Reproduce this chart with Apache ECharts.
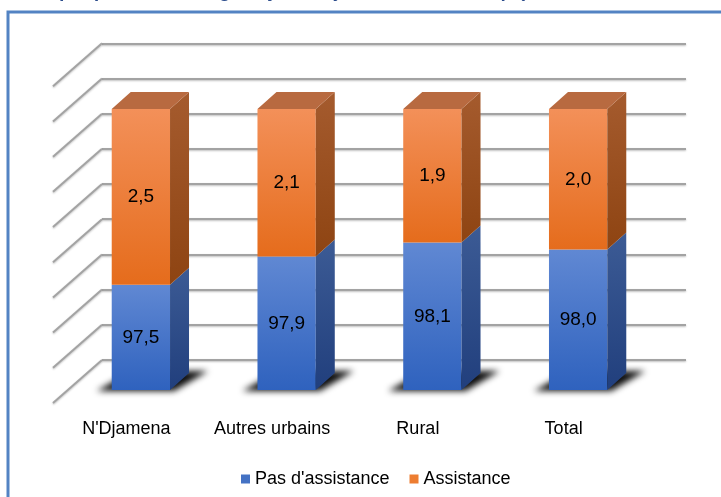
<!DOCTYPE html>
<html>
<head>
<meta charset="utf-8">
<script src="https://cdn.jsdelivr.net/npm/echarts@6/dist/echarts.min.js"></script>
<style>
html,body{margin:0;padding:0;background:#fff;}
#main{width:721px;height:497px;}
</style>
</head>
<body>
<div id="main"></div>
<script>
// données
var categories = ["N'Djamena", 'Autres urbains', 'Rural', 'Total'];
var pasAssistance = [97.5, 97.9, 98.1, 98.0];
var assistance = [2.5, 2.1, 1.9, 2.0];
var wallTicks = [96, 96.5, 97, 97.5, 98, 98.5, 99, 99.5, 100, 100.5];
var yMin = 96, yMax = 100.5, yStep = 0.5;

// effet 3D
var DEPTH_X = 19, DEPTH_Y = -17;
var WALL_X = -49, WALL_Y = 43;
var FONT = '"Liberation Sans", Arial, sans-serif';

function fmt(v){ return v.toFixed(1).replace('.', ','); }

function grad(c){
    return new echarts.graphic.LinearGradient(0, 0, 0, 1, [
        {offset: 0, color: c[0]}, {offset: 1, color: c[1]}
    ]);
}

function barRender(front, side, top, withShadow){
    return function(params, api){
        var i = api.value(0);
        var lo = api.coord([i, api.value(1)]);
        var hi = api.coord([i, api.value(2)]);
        var w = api.size([1, 0])[0] * 0.4;
        var x0 = lo[0] - w / 2, x1 = lo[0] + w / 2;
        var yb = lo[1], yt = hi[1];
        var kids = [];
        if(withShadow){
            // ombre floue : la forme est hors champ, seule l'ombre est ramenée sous la barre
            var off = 2000;
            kids.push({type: 'polygon',
                shape: {points: [[x0 - 15 - off, yb + 1], [x1 + 4 - off, yb + 1], [x1 + 38 - off, yb - 19], [x0 + 20 - off, yb - 19]]},
                style: {fill: '#000', shadowBlur: 6, shadowColor: 'rgba(0,0,0,0.95)', shadowOffsetX: off, shadowOffsetY: 0}});
        }
        kids.push({type: 'rect', shape: {x: x0, y: yt, width: w, height: yb - yt}, style: {fill: grad(front)}});
        kids.push({type: 'polygon', shape: {points: [[x1, yt], [x1 + DEPTH_X, yt + DEPTH_Y], [x1 + DEPTH_X, yb + DEPTH_Y], [x1, yb]]},
            style: {fill: grad(side)}});
        if(top){
            kids.push({type: 'polygon', shape: {points: [[x0, yt], [x0 + DEPTH_X, yt + DEPTH_Y], [x1 + DEPTH_X, yt + DEPTH_Y], [x1, yt]]},
                style: {fill: top}});
        }
        kids.push({type: 'text', x: lo[0], y: (yt + yb) / 2,
            style: {text: fmt(api.value(3)), fill: '#000', font: '19px ' + FONT, align: 'center', verticalAlign: 'middle'}});
        return {type: 'group', children: kids};
    };
}

var blueData = pasAssistance.map(function(v, i){ return [i, yMin, v, v]; });
var orangeData = assistance.map(function(v, i){ return [i, pasAssistance[i], pasAssistance[i] + v, v]; });
var wallData = wallTicks.map(function(v){ return [0, v]; });

var myChart = echarts.init(document.getElementById('main'));

function yAx(idx, showSplit){
    return {
        type: 'value', gridIndex: idx, min: yMin, max: yMax, interval: yStep,
        axisLabel: {show: false}, axisLine: {show: false}, axisTick: {show: false},
        splitLine: {show: showSplit, lineStyle: {color: '#A3A3A3', width: 2,
            shadowColor: 'rgba(0,0,0,0.25)', shadowBlur: 2, shadowOffsetY: 1}}
    };
}
function xAx(idx, showLabel){
    return {
        type: 'category', gridIndex: idx, data: categories,
        axisLine: {show: false}, axisTick: {show: false},
        axisLabel: {show: showLabel, interval: 0, margin: 30, color: '#000', fontSize: 18, fontFamily: FONT}
    };
}

option = {
    animation: false,
    grid: [
        {left: 102, right: 35, top: 43.3, bottom: 137},   // mur du fond
        {left: 68, right: 70, top: 74, bottom: 107},      // face avant des barres
        {left: 53.5, right: 84.5, top: 74, bottom: 107}   // étiquettes
    ],
    xAxis: [xAx(0, false), xAx(1, false), xAx(2, true)],
    yAxis: [yAx(0, true), yAx(1, false), yAx(2, false)],
    legend: {
        data: ["Pas d'assistance", 'Assistance'],
        left: 236, top: 465, icon: 'rect', itemWidth: 9, itemHeight: 9, itemGap: 20,
        textStyle: {color: '#000', fontSize: 18, fontFamily: FONT}
    },
    graphic: [
        {type: 'text', x: 28, y: 1, silent: true,
            style: {text: 'Graphique 5.3 : Ménages ayant reçu une assistance (%)', font: 'italic bold 19px ' + FONT,
                fill: '#2B4C8C', verticalAlign: 'bottom'}},
        {type: 'rect', silent: true, shape: {x: 8, y: 12, width: 760, height: 540},
            style: {fill: null, stroke: '#5383C3', lineWidth: 3}}
    ],
    series: [
        {
            type: 'custom', name: 'mur', xAxisIndex: 0, yAxisIndex: 0, data: wallData, clip: false, silent: true,
            renderItem: function(params, api){
                var p = api.coord([0, api.value(1)]);
                var x = params.coordSys.x;
                return {type: 'line', shape: {x1: x, y1: p[1], x2: x + WALL_X, y2: p[1] + WALL_Y},
                    style: {stroke: '#A3A3A3', lineWidth: 2, shadowColor: 'rgba(0,0,0,0.25)', shadowBlur: 2, shadowOffsetY: 1}};
            }
        },
        {
            type: 'custom', name: "Pas d'assistance", xAxisIndex: 1, yAxisIndex: 1, data: blueData, clip: false,
            itemStyle: {color: '#4472C4'},
            renderItem: barRender(['#6088D3', '#2F62BE'], ['#3C5B95', '#213F7D'], null, true)
        },
        {
            type: 'custom', name: 'Assistance', xAxisIndex: 1, yAxisIndex: 1, data: orangeData, clip: false,
            itemStyle: {color: '#ED7D31'},
            renderItem: barRender(['#F39059', '#E56C1C'], ['#A55B2E', '#8E4412'], '#B86A40', false)
        }
    ]
};

myChart.setOption(option);
</script>
</body>
</html>
